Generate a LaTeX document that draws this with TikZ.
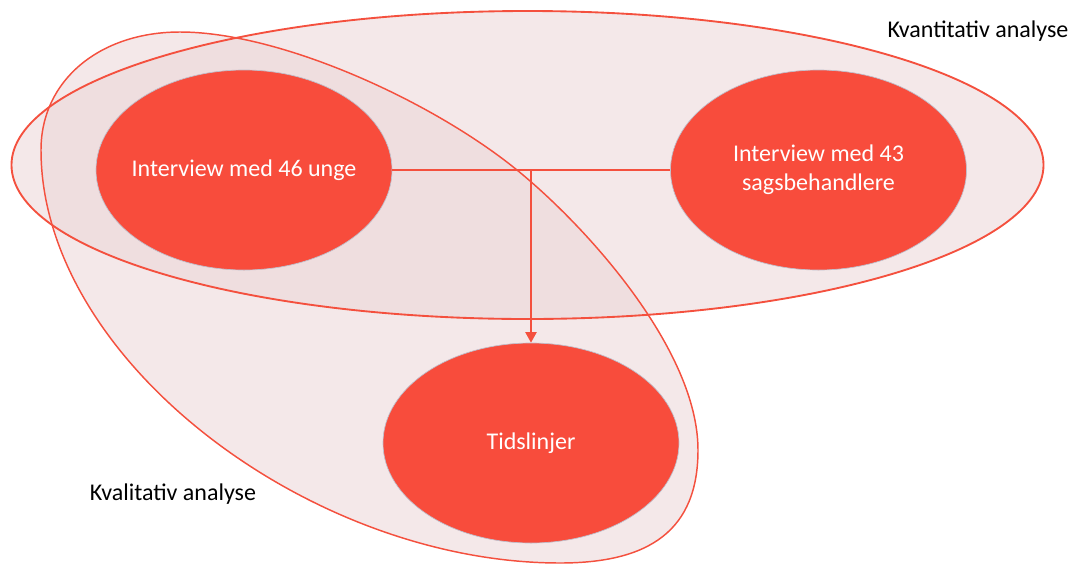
\documentclass[tikz,border=0pt]{standalone}
\usepackage{fontspec}
\setmainfont{Carlito}
\usetikzlibrary{shapes.geometric,arrows.meta}
\definecolor{nodered}{RGB}{248,76,60}
\definecolor{linered}{RGB}{244,80,62}
\definecolor{groupfill}{RGB}{235,213,215}
\definecolor{shadowgray}{RGB}{190,192,205}
\tikzset{
  groupfillstyle/.style={fill=groupfill, fill opacity=0.55},
  groupline/.style={draw=linered, line width=1.4pt},
  bubble/.style={ellipse, fill=nodered, draw=shadowgray, line width=0.5pt,
    minimum width=222pt, minimum height=150pt, inner sep=0pt},
  bubbletext/.style={text=white, align=center, font=\fontsize{18}{21.6}\selectfont},
  grouplabel/.style={anchor=base, text=black, font=\fontsize{18}{21.6}\selectfont},
  link/.style={draw=linered, line width=1.3pt}
}
\begin{document}
\begin{tikzpicture}[x=0.75pt,y=-0.75pt]
\useasboundingbox (0,0) rectangle (1075,565);
\def\quantshape{(527.5,165) ellipse [x radius=387pt, y radius=115.5pt]}
\def\qualshape{(41,150) .. controls (41,360) and (310,563) .. (560,563)
  .. controls (650,563) and (698,530) .. (698,450)
  .. controls (698,350) and (587,227) .. (517,170)
  .. controls (431.6,100.6) and (280,32) .. (180,32)
  .. controls (100,32) and (41,80) .. (41,150) -- cycle}
% fills
\path[groupfillstyle] \quantshape;
\path[groupfillstyle] \qualshape;
% outlines
\path[groupline] \quantshape;
\path[groupline, line width=1.1pt] \qualshape;
% nodes
\node[bubble, label={[bubbletext]center:Interview med 46 unge}] (a) at (244,170) {};
\node[bubble, label={[bubbletext]center:Interview med 43\\sagsbehandlere}] (b) at (818.5,170) {};
\node[bubble, label={[bubbletext]center:Tidslinjer}] (c) at (531,443) {};
\coordinate (j) at (c.north |- a.east);
\draw[link] (a.east) -- (b.west);
\draw[link, -{Triangle[width=8.5pt,length=8pt]}] (j) -- (c.north);
% labels
\node[grouplabel] (kv) at (978,37) {Kvantitativ analyse};
\node[grouplabel] (kl) at (173,500) {Kvalitativ analyse};
\end{tikzpicture}
\end{document}
